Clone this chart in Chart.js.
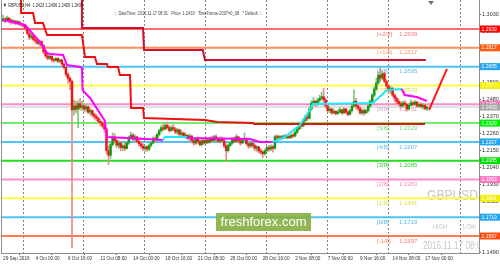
<!DOCTYPE html>
<html>
<head>
<meta charset="utf-8">
<script src="https://cdn.jsdelivr.net/npm/chart.js@4.4.0/dist/chart.umd.min.js"></script>
<style>
  html, body { margin: 0; padding: 0; background: #fff; }
  canvas { display: block; }
</style>
</head>
<body>
<canvas id="chart" width="500" height="266"></canvas>
<script>
// GBPUSD H4, 29 Sep - 17 Nov 2016, Murrey levels + steps + MA

const FIRST_OPEN = 1.2990;
const CLOSE = [
  1.3005,1.2992,1.3010,1.2998,1.2985,1.2990,1.2978,1.2986,1.2975,1.2968,
  1.2960,1.2945,1.2910,1.2885,1.2895,1.2870,1.2862,1.2845,1.2858,1.2832,
  1.2790,1.2765,1.2750,1.2762,1.2740,1.2735,1.2748,1.2730,1.2738,1.2712,
  1.2690,1.2645,1.2620,1.2600,1.2415,1.2440,1.2420,1.2455,1.2430,1.2440,
  1.2420,1.2435,1.2400,1.2410,1.2385,1.2372,1.2360,1.2340,1.2330,1.2310,
  1.2290,1.2150,1.2120,1.2190,1.2240,1.2215,1.2185,1.2200,1.2170,1.2180,
  1.2165,1.2200,1.2235,1.2250,1.2225,1.2240,1.2210,1.2195,1.2180,1.2165,
  1.2175,1.2160,1.2185,1.2200,1.2230,1.2220,1.2255,1.2280,1.2300,1.2290,
  1.2315,1.2300,1.2280,1.2300,1.2290,1.2270,1.2285,1.2255,1.2265,1.2245,
  1.2250,1.2230,1.2245,1.2215,1.2200,1.2225,1.2210,1.2190,1.2215,1.2200,
  1.2220,1.2205,1.2230,1.2215,1.2240,1.2225,1.2210,1.2230,1.2215,1.2180,
  1.2150,1.2185,1.2200,1.2225,1.2210,1.2240,1.2215,1.2200,1.2220,1.2230,
  1.2195,1.2180,1.2200,1.2185,1.2165,1.2175,1.2150,1.2140,1.2130,1.2150,
  1.2170,1.2160,1.2175,1.2165,1.2240,1.2235,1.2240,1.2230,1.2245,1.2235,
  1.2242,1.2235,1.2250,1.2245,1.2270,1.2290,1.2320,1.2310,1.2345,1.2370,
  1.2360,1.2420,1.2460,1.2470,1.2450,1.2475,1.2490,1.2500,1.2480,1.2440,
  1.2410,1.2420,1.2395,1.2405,1.2390,1.2400,1.2415,1.2395,1.2420,1.2400,
  1.2385,1.2410,1.2440,1.2470,1.2440,1.2425,1.2395,1.2410,1.2395,1.2410,
  1.2440,1.2470,1.2510,1.2550,1.2590,1.2640,1.2620,1.2650,1.2600,1.2570,
  1.2540,1.2555,1.2510,1.2490,1.2470,1.2455,1.2440,1.2460,1.2450,1.2420,
  1.2445,1.2460,1.2450,1.2465,1.2440,1.2450,1.2435,1.2445,1.2423,1.2433
];
const HIGH = [
  1.3030,1.3012,1.3022,1.3015,1.3002,1.3000,1.2995,1.2995,1.2990,1.2982,
  1.2975,1.2965,1.2950,1.2920,1.2905,1.2900,1.2885,1.2875,1.2866,1.2862,
  1.2840,1.2795,1.2775,1.2770,1.2768,1.2750,1.2756,1.2752,1.2745,1.2742,
  1.2718,1.2695,1.2655,1.2630,1.2610,1.2480,1.2470,1.2475,1.2490,1.2470,
  1.2455,1.2450,1.2440,1.2425,1.2415,1.2395,1.2385,1.2370,1.2352,1.2340,
  1.2320,1.2295,1.2180,1.2205,1.2265,1.2260,1.2225,1.2215,1.2210,1.2195,
  1.2200,1.2210,1.2245,1.2270,1.2262,1.2255,1.2245,1.2225,1.2210,1.2195,
  1.2185,1.2180,1.2195,1.2210,1.2240,1.2248,1.2265,1.2290,1.2315,1.2325,
  1.2330,1.2335,1.2310,1.2315,1.2320,1.2300,1.2295,1.2290,1.2280,1.2270,
  1.2265,1.2255,1.2260,1.2250,1.2225,1.2235,1.2240,1.2220,1.2225,1.2230,
  1.2235,1.2230,1.2240,1.2245,1.2250,1.2255,1.2235,1.2240,1.2240,1.2220,
  1.2195,1.2195,1.2210,1.2235,1.2240,1.2255,1.2245,1.2225,1.2230,1.2265,
  1.2235,1.2205,1.2210,1.2210,1.2195,1.2185,1.2180,1.2165,1.2150,1.2160,
  1.2180,1.2185,1.2190,1.2185,1.2250,1.2255,1.2250,1.2248,1.2252,1.2255,
  1.2250,1.2250,1.2260,1.2265,1.2280,1.2300,1.2330,1.2335,1.2355,1.2380,
  1.2390,1.2435,1.2475,1.2495,1.2480,1.2490,1.2510,1.2530,1.2555,1.2490,
  1.2450,1.2430,1.2425,1.2420,1.2410,1.2415,1.2430,1.2420,1.2430,1.2425,
  1.2410,1.2420,1.2460,1.2545,1.2490,1.2450,1.2435,1.2420,1.2420,1.2420,
  1.2450,1.2480,1.2520,1.2565,1.2620,1.2660,1.2686,1.2665,1.2660,1.2610,
  1.2580,1.2570,1.2560,1.2520,1.2500,1.2485,1.2470,1.2470,1.2475,1.2460,
  1.2455,1.2480,1.2470,1.2475,1.2470,1.2460,1.2460,1.2455,1.2450,1.2436
];
const LOW = [
  1.2992,1.2980,1.2988,1.2982,1.2970,1.2975,1.2968,1.2970,1.2962,1.2955,
  1.2950,1.2930,1.2900,1.2870,1.2872,1.2858,1.2845,1.2838,1.2830,1.2820,
  1.2780,1.2752,1.2738,1.2742,1.2728,1.2722,1.2730,1.2720,1.2722,1.2700,
  1.2680,1.2630,1.2590,1.2545,1.1520,1.2380,1.2395,1.2300,1.2415,1.2410,
  1.2405,1.2400,1.2390,1.2380,1.2370,1.2355,1.2345,1.2330,1.2310,1.2298,
  1.2270,1.2130,1.2060,1.2100,1.2180,1.2200,1.2170,1.2165,1.2150,1.2150,
  1.2150,1.2160,1.2190,1.2225,1.2215,1.2205,1.2200,1.2180,1.2165,1.2150,
  1.2145,1.2145,1.2150,1.2175,1.2195,1.2205,1.2215,1.2245,1.2270,1.2280,
  1.2285,1.2290,1.2270,1.2275,1.2280,1.2260,1.2255,1.2245,1.2240,1.2235,
  1.2230,1.2220,1.2215,1.2200,1.2185,1.2190,1.2195,1.2180,1.2180,1.2190,
  1.2195,1.2195,1.2200,1.2205,1.2210,1.2215,1.2200,1.2200,1.2205,1.2170,
  1.2080,1.2140,1.2175,1.2190,1.2200,1.2205,1.2200,1.2185,1.2195,1.2215,
  1.2185,1.2165,1.2170,1.2170,1.2150,1.2145,1.2135,1.2125,1.2105,1.2120,
  1.2140,1.2145,1.2150,1.2140,1.2160,1.2220,1.2225,1.2220,1.2225,1.2228,
  1.2225,1.2228,1.2230,1.2235,1.2240,1.2260,1.2285,1.2295,1.2305,1.2335,
  1.2345,1.2355,1.2410,1.2440,1.2435,1.2440,1.2465,1.2480,1.2455,1.2430,
  1.2400,1.2395,1.2385,1.2390,1.2380,1.2385,1.2395,1.2385,1.2390,1.2390,
  1.2375,1.2380,1.2400,1.2430,1.2420,1.2410,1.2385,1.2385,1.2380,1.2390,
  1.2400,1.2430,1.2465,1.2500,1.2540,1.2580,1.2600,1.2610,1.2590,1.2555,
  1.2530,1.2520,1.2500,1.2470,1.2455,1.2440,1.2425,1.2430,1.2440,1.2405,
  1.2415,1.2440,1.2440,1.2445,1.2430,1.2430,1.2425,1.2420,1.2415,1.2409
];

const TIME_TICKS = [0, 16, 32, 48, 64, 80, 96, 112, 128, 144, 160, 176, 192, 208];
const TIME_LABELS = ['29 Sep 2016', '4 Oct 00:00', '6 Oct 16:00', '11 Oct 08:00', '14 Oct 00:00',
  '18 Oct 16:00', '21 Oct 08:00', '26 Oct 00:00', '28 Oct 16:00', '2 Nov 08:00',
  '7 Nov 00:00', '9 Nov 16:00', '14 Nov 08:00', '17 Nov 00:00'];
const GRID_BARS = [9.8, 39.6, 69.6, 99.6, 129.6, 159.7, 189.7, 225.2];
const PRICE_TICKS = [1.1490, 1.1600, 1.1710, 1.1820, 1.1930, 1.2040, 1.2150, 1.2260,
  1.2370, 1.2480, 1.2590, 1.2700, 1.2810, 1.2920, 1.3030];

const LEVEL_NAMES = ['[+2/8]', '[+1/8]', '[8/8]', '[7/8]', '[6/8]', '[5/8]',
  '[4/8]', '[3/8]', '[2/8]', '[1/8]', '[0/8]', '[-1/8]'];
const LEVEL_PRICES = [1.2939, 1.2817, 1.2695, 1.2573, 1.2451, 1.2329,
  1.2207, 1.2085, 1.1963, 1.1841, 1.1719, 1.1597];
const BID_PRICE = 1.2433;

// stepped red lines (corner points)
const RED1_X = [8.9, 8.9, 14.8, 15.8, 19.7, 21.7, 38.9, 40.4, 45.3, 46.3, 51.2, 51.7,
  56.7, 57.6, 62.6, 63.1, 69.0, 69.5, 99.5, 105.4, 123.2, 123.7, 208.0];
const RED1_Y = [1.3150, 1.3043, 1.3043, 1.2978, 1.2978, 1.2900, 1.2900, 1.2757, 1.2757,
  1.2712, 1.2712, 1.2692, 1.2692, 1.2641, 1.2641, 1.2427, 1.2427, 1.2362, 1.2349,
  1.2336, 1.2329, 1.2323, 1.2323];
const RED2_X = [38.9, 38.9, 69.0, 69.5, 98.5, 99.5, 208.4];
const RED2_Y = [1.3150, 1.2945, 1.2945, 1.2803, 1.2803, 1.2738, 1.2738];

// moving average, trend of each segment
const MA_X = [0, 10.8, 14.3, 18.2, 21.7, 23.2, 29.6, 31.5, 37.9, 38.9, 39.2, 42.9, 49.3,
  50.2, 51.2, 70.9, 78.8, 79.8, 90.6, 92.1, 121.7, 126.6, 133.0, 138.9, 146.3, 151.5,
  152.7, 182.3, 189.2, 196.6, 198.0, 204.0, 208.9];
const MA_Y = [1.2997, 1.2965, 1.2913, 1.2855, 1.2783, 1.2777, 1.2770, 1.2706, 1.2693,
  1.2686, 1.2543, 1.2492, 1.2362, 1.2342, 1.2239, 1.2226, 1.2219, 1.2239, 1.2239,
  1.2232, 1.2226, 1.2206, 1.2206, 1.2239, 1.2316, 1.2420, 1.2453, 1.2459, 1.2543,
  1.2550, 1.2511, 1.2498, 1.2472];
const MA_TREND = ['dn','dn','dn','dn','dn','dn','dn','dn','dn','dn','dn','dn','dn','dn',
  'dn','dn','up','up','dn','dn','dn','dn','up','up','up','up','up','up','up','dn','dn','dn','dn'];

const ARROW_X = [210.0, 218.8];
const ARROW_Y = [1.2414, 1.2680];

// colours
const LEVEL_LINE = ['#ff6b6b', '#ff8c5a', '#4cc4f4', '#ffff40', '#ff8cc8', '#70ee70',
  '#4cc4f4', '#22dd22', '#ff8cc8', '#ffff40', '#4cc4f4', '#ff7a50'];
const LEVEL_TEXT = ['#f07878', '#ffa070', '#5ab8f0', '#e0e040', '#d8a0c0', '#70d870',
  '#5ab8f0', '#30cc30', '#ff80c0', '#e0e040', '#4ab4f0', '#ff7860'];
const LEVEL_BOX = ['#ff0000', '#ff5a14', '#26a6f0', '#f0f000', '#ff78c0', '#00f000',
  '#26a6f0', '#00dd00', '#ff78c0', '#f0f000', '#26a6f0', '#ff4a10'];
const BULL_BODY = '#129a12', BEAR_BODY = '#f01414';
const BULL_WICK = '#7cc87c', BEAR_WICK = '#f08888';
const MAGENTA = '#ff00ff', CYAN = '#20e8f4';
const FONT = '"Liberation Sans", Arial, sans-serif';

const OPEN = CLOSE.map((c, i) => i ? CLOSE[i - 1] : FIRST_OPEN);
const isBull = CLOSE.map((c, i) => c >= OPEN[i]);

const datasets = [];
LEVEL_PRICES.forEach((p, i) => {
  datasets.push({
    type: 'line', order: 60,
    data: [{ x: -1, y: p }, { x: 234.6, y: p }],
    borderColor: LEVEL_LINE[i], borderWidth: 2, pointRadius: 0
  });
});
datasets.push({
  type: 'line', order: 55,
  data: [{ x: -1, y: BID_PRICE }, { x: 234.6, y: BID_PRICE }],
  borderColor: '#c4c4c4', borderWidth: 1, pointRadius: 0
});
datasets.push({
  type: 'bar', order: 41, grouped: false, barThickness: 1,
  data: CLOSE.map((c, i) => ({ x: i, y: [Math.min(LOW[i], OPEN[i], c), Math.max(HIGH[i], OPEN[i], c)] })),
  backgroundColor: isBull.map(b => b ? BULL_WICK : BEAR_WICK), borderWidth: 0
});
datasets.push({
  type: 'bar', order: 40, grouped: false, barThickness: 1.8, minBarLength: 1,
  data: CLOSE.map((c, i) => ({ x: i, y: [OPEN[i], c] })),
  backgroundColor: isBull.map(b => b ? BULL_BODY : BEAR_BODY), borderWidth: 0
});
datasets.push({
  type: 'line', order: 30,
  data: RED2_X.map((b, i) => ({ x: b, y: RED2_Y[i] })),
  borderColor: '#cf1030', borderWidth: 2, pointRadius: 0
});
datasets.push({
  type: 'line', order: 29,
  data: RED1_X.map((b, i) => ({ x: b, y: RED1_Y[i] })),
  borderColor: '#ee1010', borderWidth: 2, pointRadius: 0
});
datasets.push({
  type: 'line', order: 20,
  data: MA_X.map((b, i) => ({ x: b, y: MA_Y[i] })),
  borderColor: MAGENTA, borderWidth: 2, pointRadius: 0,
  segment: { borderColor: c => MA_TREND[c.p0DataIndex] === 'up' ? CYAN : MAGENTA }
});
datasets.push({
  type: 'line', order: 10,
  data: ARROW_X.map((b, i) => ({ x: b, y: ARROW_Y[i] })),
  borderColor: '#ff1a1a', borderWidth: 2, pointRadius: 0
});

function fitText(ctx, text, x, y, font, width) {
  ctx.font = font;
  const w = ctx.measureText(text).width;
  ctx.save();
  ctx.translate(x, y);
  ctx.scale(width / w, 1);
  ctx.fillText(text, 0, 0);
  ctx.restore();
}

function squeezeText(ctx, text, x, y, font, sx) {
  ctx.font = font;
  ctx.save();
  ctx.translate(x, y);
  ctx.scale(sx, 1);
  ctx.fillText(text, 0, 0);
  ctx.restore();
}

const decor = {
  id: 'decor',
  beforeDatasetsDraw(chart) {
    const { ctx, chartArea: a, scales: { x, y } } = chart;
    ctx.save();
    ctx.beginPath();
    ctx.rect(a.left, a.top, a.right - a.left, a.bottom - a.top);
    ctx.clip();

    ctx.strokeStyle = '#808080';
    ctx.lineWidth = 1;
    ctx.setLineDash([2, 2]);
    GRID_BARS.forEach(b => {
      const px = Math.round(x.getPixelForValue(b)) + 0.5;
      ctx.beginPath();
      ctx.moveTo(px, a.top);
      ctx.lineTo(px, a.bottom);
      ctx.stroke();
    });
    ctx.setLineDash([]);

    ctx.textBaseline = 'middle';
    ctx.textAlign = 'left';
    ctx.fillStyle = '#c6c6c6';
    fitText(ctx, 'GBPUSD', 427, 196, '15px ' + FONT, 51);
    fitText(ctx, 'HIGH', 433, 227, '7.5px ' + FONT, 14);
    fitText(ctx, 'LOW', 463, 227, '7.5px ' + FONT, 13);
    squeezeText(ctx, '2016.11.17 08:01', 423, 246, '11px ' + FONT, 0.74);

    ctx.font = '6px ' + FONT;
    LEVEL_PRICES.forEach((p, i) => {
      const py = y.getPixelForValue(p) + 5;
      ctx.fillStyle = LEVEL_TEXT[i];
      ctx.fillText(LEVEL_NAMES[i], 377, py);
      ctx.fillText(p.toFixed(4), 399, py);
    });
    ctx.restore();
  },
  afterDraw(chart) {
    const { ctx, chartArea: a, scales: { y } } = chart;
    ctx.save();
    ctx.strokeStyle = '#909090';
    ctx.lineWidth = 1;
    ctx.beginPath();
    ctx.moveTo(a.left + 0.5, 0);
    ctx.lineTo(a.left + 0.5, a.bottom);
    ctx.stroke();

    // price boxes on the right scale
    ctx.textBaseline = 'middle';
    ctx.textAlign = 'left';
    ctx.font = '5px ' + FONT;
    const box = (p, color) => {
      const py = y.getPixelForValue(p);
      ctx.fillStyle = color;
      ctx.fillRect(a.right + 1, py - 3.5, 20, 7);
      ctx.fillStyle = '#ffffff';
      ctx.fillText(p.toFixed(4), a.right + 2.5, py + 0.3);
    };
    LEVEL_PRICES.forEach((p, i) => box(p, LEVEL_BOX[i]));
    box(BID_PRICE, '#a6a6a6');

    // header
    ctx.fillStyle = '#202020';
    fitText(ctx, '\u25BC GBPUSD,H4  1.2423 1.2436 1.2409 1.2433', 3, 5.5, '5.5px ' + FONT, 80);
    ctx.fillStyle = '#404040';
    fitText(ctx, '::: DateTime: 2016.11.17 08:01   Price: 1.2433   TimeFrame-2007=0_08   * Default :::',
      114, 13.8, '5.5px ' + FONT, 148);

    // chart shift marker
    ctx.fillStyle = '#707070';
    ctx.beginPath();
    ctx.moveTo(428, 1);
    ctx.lineTo(434, 1);
    ctx.lineTo(431, 5);
    ctx.closePath();
    ctx.fill();

    // logo
    ctx.fillStyle = 'rgba(136,176,68,0.92)';
    ctx.fillRect(216, 213, 95, 18);
    ctx.fillStyle = '#ffffff';
    ctx.textAlign = 'center';
    ctx.font = '13px ' + FONT;
    ctx.fillText('freshforex.com', 263.5, 222.5);
    ctx.restore();
  }
};

new Chart(document.getElementById('chart').getContext('2d'), {
  type: 'line',
  data: { datasets },
  options: {
    responsive: false,
    animation: false,
    devicePixelRatio: 1,
    layout: { padding: { left: 1, top: 0, right: 0, bottom: 0 } },
    plugins: { legend: { display: false }, tooltip: { enabled: false } },
    scales: {
      x: {
        type: 'linear', min: -1, max: 234.6, offset: false,
        afterBuildTicks: s => { s.ticks = TIME_TICKS.map(v => ({ value: v })); },
        afterFit: s => { s.height = 13; s.paddingLeft = 0; s.paddingRight = 0; },
        ticks: {
          autoSkip: false, maxRotation: 0, align: 'start', padding: 1,
          color: '#333', font: { size: 4.7, family: FONT },
          callback: (v, i) => TIME_LABELS[i]
        },
        grid: { drawOnChartArea: false, tickLength: 2, color: '#666' },
        border: { color: '#8c8c8c' }
      },
      y: {
        type: 'linear', position: 'right', min: 1.14868, max: 1.3127,
        afterBuildTicks: s => { s.ticks = PRICE_TICKS.map(v => ({ value: v })); },
        afterFit: s => { s.width = 21; s.paddingTop = 0; s.paddingBottom = 0; },
        ticks: {
          autoSkip: false, padding: 1, color: '#333',
          font: { size: 5.5, family: FONT },
          callback: v => v.toFixed(4)
        },
        grid: { drawOnChartArea: false, tickLength: 2, color: '#666' },
        border: { color: '#8c8c8c' }
      }
    }
  },
  plugins: [decor]
});
</script>
</body>
</html>
